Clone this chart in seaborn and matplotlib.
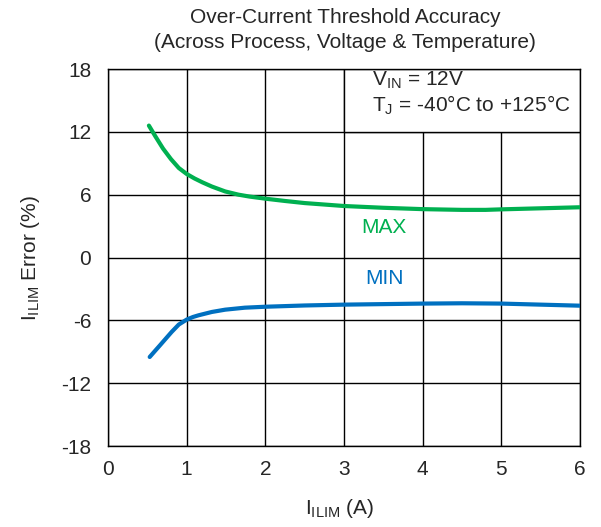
import numpy as np
import pandas as pd
import matplotlib
matplotlib.use("Agg")
import matplotlib.pyplot as plt
from matplotlib.patches import Rectangle
import seaborn as sns

# values
x_max = [0.52, 0.6, 0.7, 0.8, 0.9, 1.0, 1.1, 1.2, 1.32, 1.49, 1.66, 1.8, 2.0, 2.25, 2.5, 3.0,
         3.5, 4.0, 4.5, 4.8, 5.0, 5.5, 6.0]
err_max = [12.6, 11.6, 10.4, 9.4, 8.55, 7.98, 7.55, 7.18, 6.78, 6.31, 6.0, 5.82, 5.62, 5.4, 5.2, 4.92,
           4.75, 4.62, 4.55, 4.55, 4.6, 4.7, 4.8]
x_min = [0.53, 0.6, 0.66, 0.74, 0.81, 0.9, 1.0, 1.08, 1.15, 1.32, 1.49, 1.74, 2.0, 2.5, 3.0,
         3.5, 4.0, 4.5, 5.0, 5.5, 6.0]
err_min = [-9.5, -8.9, -8.39, -7.7, -7.1, -6.4, -5.93, -5.68, -5.52, -5.2, -4.98, -4.79, -4.7, -4.58, -4.5,
           -4.45, -4.4, -4.37, -4.4, -4.5, -4.6]
x_ticks = [0, 1, 2, 3, 4, 5, 6]
y_ticks = [-18, -12, -6, 0, 6, 12, 18]

GREEN = "#00B050"
BLUE = "#0070C0"

sns.set_theme(style="white")
plt.rcParams["font.family"] = ["Liberation Sans", "DejaVu Sans"]
plt.rcParams["mathtext.fontset"] = "custom"
plt.rcParams["mathtext.rm"] = "Liberation Sans"
plt.rcParams["mathtext.it"] = "Liberation Sans"
plt.rcParams["axes.unicode_minus"] = False

df = pd.concat([
    pd.DataFrame({"x": x_max, "err": err_max, "series": "MAX"}),
    pd.DataFrame({"x": x_min, "err": err_min, "series": "MIN"}),
])

fig = plt.figure(figsize=(6.01, 5.27), dpi=100)
ax = fig.add_axes([0.1797, 0.1537, 0.7853, 0.7153])

sns.lineplot(data=df, x="x", y="err", hue="series", palette={"MAX": GREEN, "MIN": BLUE},
             linewidth=3, legend=False, ax=ax, zorder=3, sort=False)
for ln in ax.lines:
    ln.set_solid_joinstyle("round")
    ln.set_solid_capstyle("round")

ax.set_xlim(0, 6)
ax.set_ylim(-18, 18)
ax.set_xticks(x_ticks)
ax.set_yticks(y_ticks)
ax.set_axisbelow(True)
ax.grid(True, color="black", linewidth=1)
for s in ax.spines.values():
    s.set_color("black")
    s.set_linewidth(1)
ax.tick_params(axis="both", direction="in", length=4, color="black", labelsize=15)
ax.tick_params(axis="y", pad=12)
ax.tick_params(axis="x", pad=10)

# white box behind the conditions text
ax.add_patch(Rectangle((3, 12), 3, 6, facecolor="white", edgecolor="black", linewidth=1, zorder=1))
ax.text(3.36, 16.95, "V$_{\\mathrm{IN}}$ = 12V", fontsize=15, va="center", ha="left", zorder=4)
ax.text(3.36, 14.5, "T$_{\\mathrm{J}}$ = -40°C to +125°C", fontsize=15, va="center", ha="left", zorder=4)

ax.text(3.51, 2.9, "MAX", color=GREEN, fontsize=15, ha="center", va="center")
ax.text(3.51, -2.0, "MIN", color=BLUE, fontsize=15, ha="center", va="center")

ax.set_xlabel("I$_{\\mathrm{ILIM}}$ (A)", fontsize=15, labelpad=12)
ax.xaxis.set_label_coords(0.49, -0.135)
ax.set_ylabel("I$_{\\mathrm{ILIM}}$ Error (%)", fontsize=15, labelpad=14)

fig.text(0.574, 0.967, "Over-Current Threshold Accuracy", ha="center", va="center", fontsize=15)
fig.text(0.574, 0.92, "(Across Process, Voltage & Temperature)", ha="center", va="center", fontsize=15)

fig.savefig("out.png", dpi=100)
